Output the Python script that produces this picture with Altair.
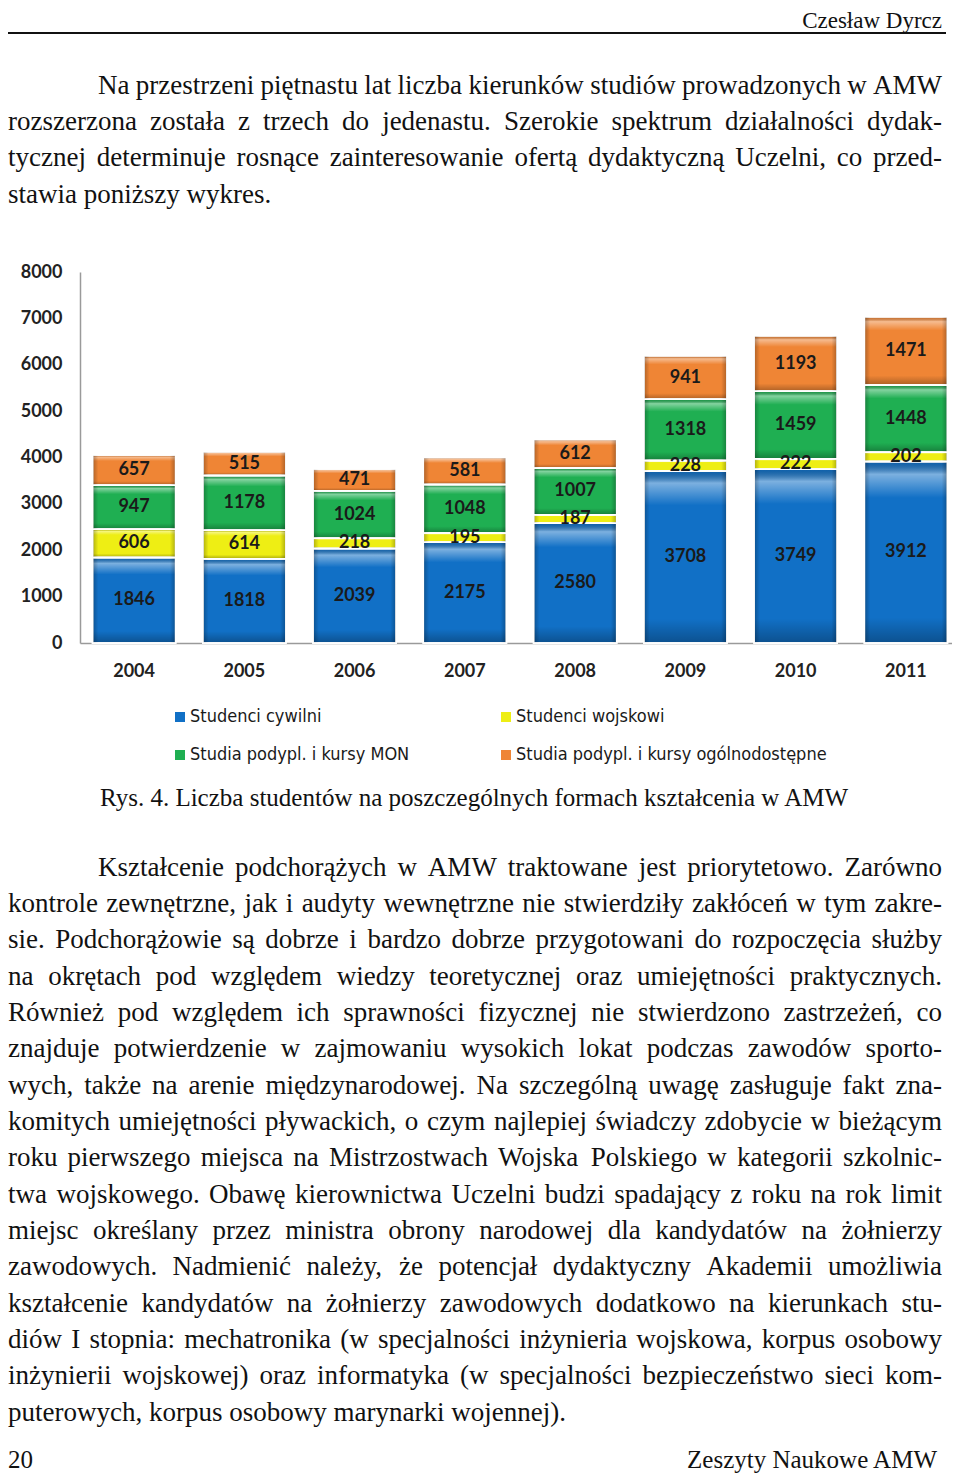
import altair as alt
import pandas as pd

# ---------------- data ----------------
years = ["2004", "2005", "2006", "2007", "2008", "2009", "2010", "2011"]
series_names = ["Studenci cywilni", "Studenci wojskowi",
                "Studia podypl. i kursy MON", "Studia podypl. i kursy ogólnodostępne"]
series_colors = ["#1170c6", "#eeee14", "#1faf52", "#ef8535"]
cywilni = [1846, 1818, 2039, 2175, 2580, 3708, 3749, 3912]
wojskowi = [606, 614, 218, 195, 187, 228, 222, 202]
mon = [947, 1178, 1024, 1048, 1007, 1318, 1459, 1448]
ogolno = [657, 515, 471, 581, 612, 941, 1193, 1471]
y_ticks = [0, 1000, 2000, 3000, 4000, 5000, 6000, 7000, 8000]

header_text = "Czesław Dyrcz"
footer_left = "20"
footer_right = "Zeszyty Naukowe AMW"
caption_text = "Rys. 4. Liczba studentów na poszczególnych formach kształcenia w AMW"
para1 = [
    "Na przestrzeni piętnastu lat liczba kierunków studiów prowadzonych w AMW",
    "rozszerzona została z trzech do jedenastu. Szerokie spektrum działalności dydak-",
    "tycznej determinuje rosnące zainteresowanie ofertą dydaktyczną Uczelni, co przed-",
    "stawia poniższy wykres.",
]
para2 = [
    "Kształcenie podchorążych w AMW traktowane jest priorytetowo. Zarówno",
    "kontrole zewnętrzne, jak i audyty wewnętrzne nie stwierdziły zakłóceń w tym zakre-",
    "sie. Podchorążowie są dobrze i bardzo dobrze przygotowani do rozpoczęcia służby",
    "na okrętach pod względem wiedzy teoretycznej oraz umiejętności praktycznych.",
    "Również pod względem ich sprawności fizycznej nie stwierdzono zastrzeżeń, co",
    "znajduje potwierdzenie w zajmowaniu wysokich lokat podczas zawodów sporto-",
    "wych, także na arenie międzynarodowej. Na szczególną uwagę zasługuje fakt zna-",
    "komitych umiejętności pływackich, o czym najlepiej świadczy zdobycie w bieżącym",
    "roku pierwszego miejsca na Mistrzostwach Wojska Polskiego w kategorii szkolnic-",
    "twa wojskowego. Obawę kierownictwa Uczelni budzi spadający z roku na rok limit",
    "miejsc określany przez ministra obrony narodowej dla kandydatów na żołnierzy",
    "zawodowych. Nadmienić należy, że potencjał dydaktyczny Akademii umożliwia",
    "kształcenie kandydatów na żołnierzy zawodowych dodatkowo na kierunkach stu-",
    "diów I stopnia: mechatronika (w specjalności inżynieria wojskowa, korpus osobowy",
    "inżynierii wojskowej) oraz informatyka (w specjalności bezpieczeństwo sieci kom-",
    "puterowych, korpus osobowy marynarki wojennej).",
]

# ---------------- layout constants ----------------
W, H = 944, 1467
SERIF = "Liberation Serif"
BODY_SIZE = 27
LINE_H = 36.35
X_RIGHT = 934

# Times / Liberation Serif advance widths (per 1000 em)
_w = {}
for ch, v in zip("abcdefghijklmnopqrstuvwxyz",
                 [444, 500, 444, 500, 444, 333, 500, 500, 278, 278, 500, 278, 778,
                  500, 500, 500, 500, 333, 389, 278, 500, 500, 722, 500, 500, 444]):
    _w[ch] = v
for ch, v in zip("ABCDEFGHIJKLMNOPQRSTUVWXYZ",
                 [722, 667, 667, 722, 611, 556, 722, 722, 333, 389, 722, 611, 889,
                  722, 722, 556, 722, 667, 556, 611, 722, 722, 944, 722, 722, 611]):
    _w[ch] = v
_w.update({" ": 250, ".": 250, ",": 250, ":": 278, ";": 278, "-": 333, "(": 333, ")": 333,
           "ą": 444, "ę": 444, "ć": 444, "ł": 278, "ń": 500, "ó": 500, "ś": 389, "ź": 444,
           "ż": 444, "Ż": 611, "Ś": 556, "Ł": 611, "Ó": 722})


def tw(s):
    return sum(_w.get(c, 500) for c in s) * BODY_SIZE / 1000.0


def layout(lines, x_first, x_left, y0):
    rows = []
    for i, line in enumerate(lines):
        words = line.split(" ")
        xs = x_first if i == 0 else x_left
        y = y0 + i * LINE_H
        last_line = i == len(lines) - 1
        if last_line or len(words) == 1:
            x = xs
            for w in words:
                rows.append({"t": w, "x": x, "y": y, "a": "l"})
                x += tw(w) + tw(" ")
        else:
            total = sum(tw(w) for w in words)
            gap = (X_RIGHT - xs - total) / (len(words) - 1)
            x = xs
            for j, w in enumerate(words):
                if j == len(words) - 1:
                    rows.append({"t": w, "x": X_RIGHT, "y": y, "a": "r"})
                else:
                    rows.append({"t": w, "x": x, "y": y, "a": "l"})
                x += tw(w) + gap
    return rows


words_df = pd.DataFrame(layout(para1, 90, 0, 85.5) + layout(para2, 90, 0, 867.5))

# ---------------- chart data ----------------
rows = []
for k, (name, vals) in enumerate(zip(series_names, [cywilni, wojskowi, mon, ogolno])):
    for yr, v in zip(years, vals):
        rows.append({"year": yr, "series": name, "value": v, "order": k})
df = pd.DataFrame(rows)

x_enc = alt.X("year:O",
              scale=alt.Scale(range=[72, 952], paddingInner=0.246, paddingOuter=0.1135),
              axis=alt.Axis(title=None, labelAngle=0, ticks=False, domainColor="#9a9a9a",
                            domainWidth=1.5, labelFont="Lato", labelFontWeight="bold",
                            labelFontSize=18, labelColor="#222222", labelPadding=19,
                            offset=-(H - 635), grid=False))
y_scale = alt.Scale(domain=[0, 8000], range=[635, 264], nice=False, zero=True)
y_enc = alt.Y("v1:Q", scale=y_scale,
              axis=alt.Axis(title=None, values=y_ticks, format="d", ticks=False, grid=False,
                            domainColor="#9a9a9a", domainWidth=1.5, labelFont="Lato",
                            labelFontWeight="bold", labelFontSize=18, labelColor="#222222",
                            labelPadding=18, offset=-72))

base = alt.Chart(df).transform_stack(
    stack="value", groupby=["year"], as_=["v0", "v1"],
    sort=[alt.SortField("order", order="ascending")]
).transform_calculate(mid="(datum.v0 + datum.v1) / 2")

bars = base.mark_bar(stroke="white", strokeWidth=1.5).encode(
    x=x_enc, y=y_enc, y2="v0:Q",
    color=alt.Color("series:N",
                    scale=alt.Scale(domain=series_names, range=series_colors),
                    legend=alt.Legend(orient="none", legendX=163, legendY=700, columns=2,
                                      direction="horizontal",
                                      title=None, symbolType="square", symbolSize=100,
                                      symbolStrokeWidth=0,
                                      labelFont="Liberation Sans Narrow, DejaVu Sans Condensed, Liberation Sans",
                                      labelFontSize=18, labelColor="#1a1a1a",
                                      columnPadding=87, rowPadding=20, gridAlign="each",
                                      labelLimit=500, padding=0, labelOffset=1)),
)

vgrad = alt.Gradient(gradient="linear", x1=0, y1=0, x2=0, y2=1, stops=[
    alt.GradientStop(color="rgba(0,0,0,0.12)", offset=0),
    alt.GradientStop(color="rgba(255,255,255,0.45)", offset=0.07),
    alt.GradientStop(color="rgba(255,255,255,0)", offset=0.2),
    alt.GradientStop(color="rgba(0,0,0,0)", offset=0.86),
    alt.GradientStop(color="rgba(0,0,0,0.28)", offset=1),
])
hgrad = alt.Gradient(gradient="linear", x1=0, y1=0, x2=1, y2=0, stops=[
    alt.GradientStop(color="rgba(0,0,0,0.28)", offset=0),
    alt.GradientStop(color="rgba(0,0,0,0)", offset=0.07),
    alt.GradientStop(color="rgba(0,0,0,0)", offset=0.93),
    alt.GradientStop(color="rgba(0,0,0,0.28)", offset=1),
])
ov1 = base.mark_bar(color=vgrad, stroke="white", strokeWidth=1.5).encode(
    x="year:O", y="v1:Q", y2="v0:Q")
ov2 = base.mark_bar(color=hgrad, stroke="white", strokeWidth=1.5).encode(
    x="year:O", y="v1:Q", y2="v0:Q")

labels = base.mark_text(font="Lato", fontWeight="bold", fontSize=18, color="#1a1a1a",
                        baseline="middle").encode(
    x="year:O", y="mid:Q", text="value:Q")

# ---------------- page text ----------------
body_l = alt.Chart(words_df).transform_filter("datum.a == 'l'").mark_text(
    font=SERIF, fontSize=BODY_SIZE, align="left", baseline="alphabetic", color="#111111"
).encode(x=alt.X("x:Q", scale=None), y=alt.Y("y:Q", scale=None), text="t:N")
body_r = alt.Chart(words_df).transform_filter("datum.a == 'r'").mark_text(
    font=SERIF, fontSize=BODY_SIZE, align="right", baseline="alphabetic", color="#111111"
).encode(x=alt.X("x:Q", scale=None), y=alt.Y("y:Q", scale=None), text="t:N")

single = pd.DataFrame({"t": [header_text]})
header = alt.Chart(single).mark_text(font=SERIF, fontSize=23, align="right",
                                     baseline="alphabetic", color="#111111").encode(
    x=alt.value(934), y=alt.value(20), text=alt.value(header_text))
rule = alt.Chart(single).mark_rule(color="#111111", strokeWidth=1.8).encode(
    x=alt.value(0), x2=alt.value(938), y=alt.value(25))
caption = alt.Chart(single).mark_text(font=SERIF, fontSize=25, align="left",
                                      baseline="alphabetic", color="#111111").encode(
    x=alt.value(92), y=alt.value(798), text=alt.value(caption_text))
foot_l = alt.Chart(single).mark_text(font=SERIF, fontSize=25, align="left",
                                     baseline="alphabetic", color="#111111").encode(
    x=alt.value(0), y=alt.value(1460), text=alt.value(footer_left))
foot_r = alt.Chart(single).mark_text(font=SERIF, fontSize=25, align="right",
                                     baseline="alphabetic", color="#111111").encode(
    x=alt.value(929), y=alt.value(1460), text=alt.value(footer_right))

chart = alt.layer(bars, ov1, ov2, labels, body_l, body_r, header, rule, caption,
                  foot_l, foot_r).resolve_scale(x="shared", y="shared").properties(
    width=W, height=H, padding=0, autosize="none", background="white"
).configure_view(stroke=None)

chart.save("out.html", embed_options={"renderer": "svg", "actions": False})
